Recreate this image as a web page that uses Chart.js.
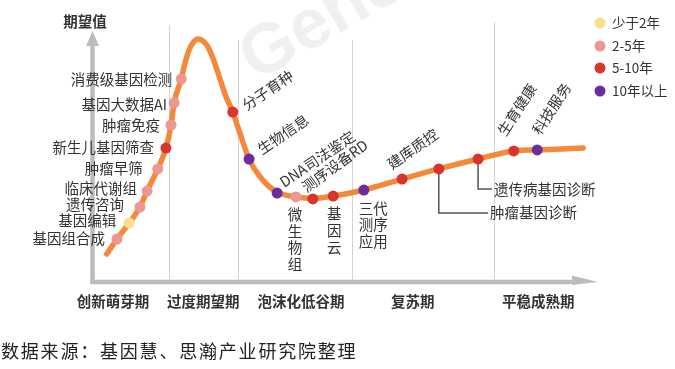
<!DOCTYPE html>
<html><head><meta charset="utf-8">
<script src="https://cdn.jsdelivr.net/npm/chart.js@4"></script>
<style>html,body{margin:0;padding:0;background:#fff;}#wrap{position:relative;width:675px;height:369px;}</style>
</head><body><div id="wrap"><canvas id="c" width="675" height="369"></canvas></div>
<script>
// ---- data (x: time 0-100, y: expectation 0-100) ----
const curveX = [2.9, 4.9, 7.3, 9.4, 10.8, 12.9, 14.5, 15.5, 16.1, 17.5, 18.4, 19.4, 20.8, 22.5, 23.7, 25.1, 26.3, 27.6, 29.0, 30.8, 33.5, 36.3, 40.0, 43.3, 47.3, 53.3, 60.8, 68.0, 75.7, 82.7, 87.3, 96.3];
const curveY = [11.8, 17.7, 24.0, 30.3, 36.6, 45.3, 53.5, 62.6, 71.3, 80.7, 88.2, 93.7, 96.5, 94.1, 89.0, 80.7, 73.6, 67.7, 59.4, 49.2, 40.9, 36.2, 34.3, 33.7, 34.6, 37.0, 41.3, 45.3, 49.2, 52.4, 52.8, 53.5];

const techNames = ['基因组合成','基因编辑','遗传咨询','临床代谢组','肿瘤早筛','新生儿基因筛查','肿瘤免疫','基因大数据AI','消费级基因检测','分子育种','生物信息','DNA司法鉴定','微生物组','测序设备RD','基因云','三代测序应用','建库质控','肿瘤基因诊断','遗传病基因诊断','生育健康','科技服务'];
const techX = [4.9, 7.3, 9.4, 10.8, 12.9, 14.5, 15.5, 16.1, 17.5, 27.6, 30.8, 36.3, 40.0, 43.3, 47.3, 53.3, 60.8, 68.0, 75.7, 82.7, 87.3];
const techY = [17.7, 24.0, 30.3, 36.6, 45.3, 53.5, 62.6, 71.3, 80.7, 67.7, 49.2, 35.8, 34.3, 33.5, 34.6, 37.0, 41.3, 45.3, 49.2, 52.4, 52.8];
const techGroup = [1, 0, 1, 1, 1, 2, 1, 1, 1, 2, 3, 3, 1, 2, 2, 3, 2, 2, 2, 2, 3];

const groupLabels = ['少于2年','2-5年','5-10年','10年以上'];
const phaseLabels = ['创新萌芽期','过度期望期','泡沫化低谷期','复苏期','平稳成熟期'];
const phaseCenters = [4.1, 21.8, 41.0, 62.9, 87.5];
const phaseBounds = [15.1, 28.6, 51.0, 78.8];
const yAxisTitle = '期望值';
const sourceNote = '数据来源：基因慧、思瀚产业研究院整理';
const watermark = 'Gene';

// ---- styles / layout ----
const groupColors = ['#F7DF8C', '#EC9890', '#D8362B', '#6C2D9C'];
const curveColor = '#F4893C';
const textColor = '#333333';
const CJK = '"Noto Sans CJK SC", "Noto Sans", sans-serif';
// label placement per technology
const labelLayout = [
  {t:'left', dx:-12, dy:-1}, {t:'left', dx:-13, dy:-3}, {t:'left', dx:-16, dy:-3},
  {t:'left', dx:-10, dy:-3}, {t:'left', dx:-15, dy:0}, {t:'left', dx:-12, dy:-1},
  {t:'left', dx:-11, dy:0}, {t:'left', dx:-7, dy:2}, {t:'left', dx:-9, dy:0},
  {t:'rot', dx:14, dy:-1, a:-34}, {t:'rot', dx:13, dy:-4, a:-34}, {t:'rot', dx:7, dy:-5, a:-34},
  {t:'vert', dx:-1, dy:18, step:16.5}, {t:'rot', dx:-6, dy:-6, a:-36}, {t:'vert', dx:1, dy:17, step:17},
  {t:'grid', dx:-5, dy:18, step:16.5, per:2}, {t:'rot', dx:-10, dy:-9, a:-35},
  {t:'lead', drop:44, to:488}, {t:'lead', drop:30, to:492},
  {t:'rot', dx:-8, dy:-14, a:-57}, {t:'rot', dx:3, dy:-14, a:-57}
];
const dividerTops = [25, 40, 40, 22];

const groupDatasets = groupLabels.map((g, gi) => ({
  type: 'scatter',
  label: g,
  data: techX.map((x, i) => ({x: x, y: techY[i], g: techGroup[i]})).filter(p => p.g === gi),
  backgroundColor: groupColors[gi],
  borderWidth: 0,
  pointRadius: 5.5,
  pointHoverRadius: 5.5,
  order: 0,
  clip: false
}));

const decor = {
  id: 'decor',
  beforeDatasetsDraw(chart) {
    const ctx = chart.ctx, xs = chart.scales.x, ys = chart.scales.y;
    const ca = chart.chartArea;
    ctx.save();
    // watermark
    ctx.save();
    ctx.translate(256, 82);
    ctx.rotate(-30 * Math.PI / 180);
    ctx.font = 'bold 70px "Liberation Sans", Arial, sans-serif';
    ctx.fillStyle = 'rgba(0,0,0,0.06)';
    ctx.textBaseline = 'alphabetic';
    ctx.fillText(watermark, 0, 0);
    ctx.restore();
    // dividers
    ctx.strokeStyle = '#d4d4d4';
    ctx.lineWidth = 1;
    phaseBounds.forEach((b, i) => {
      const px = Math.round(xs.getPixelForValue(b)) + 0.5;
      ctx.beginPath(); ctx.moveTo(px, dividerTops[i]); ctx.lineTo(px, ca.bottom - 3); ctx.stroke();
    });
    // axes
    const ax = 92.5, ay = 282;
    ctx.strokeStyle = '#bcbcbc';
    ctx.fillStyle = '#bcbcbc';
    ctx.lineWidth = 4.5;
    ctx.beginPath(); ctx.moveTo(ax, ay); ctx.lineTo(ax, 44); ctx.stroke();
    ctx.beginPath(); ctx.moveTo(ax - 2.25, ay); ctx.lineTo(575, ay); ctx.stroke();
    ctx.beginPath(); ctx.moveTo(ax - 6.5, 46); ctx.lineTo(ax, 31); ctx.lineTo(ax + 6.5, 46); ctx.closePath(); ctx.fill();
    ctx.beginPath(); ctx.moveTo(572, ay - 6.5); ctx.lineTo(598, ay); ctx.lineTo(572, ay + 3); ctx.closePath(); ctx.fill();
    // leader lines
    ctx.strokeStyle = '#555';
    ctx.lineWidth = 1.5;
    techNames.forEach((n, i) => {
      const L = labelLayout[i];
      if (L.t !== 'lead') return;
      const px = xs.getPixelForValue(techX[i]), py = ys.getPixelForValue(techY[i]);
      ctx.beginPath(); ctx.moveTo(px, py); ctx.lineTo(px, py + L.drop); ctx.lineTo(L.to, py + L.drop); ctx.stroke();
    });
    ctx.restore();
  },
  afterDatasetsDraw(chart) {
    const ctx = chart.ctx, xs = chart.scales.x, ys = chart.scales.y;
    ctx.save();
    ctx.fillStyle = textColor;
    ctx.font = '14.5px ' + CJK;
    techNames.forEach((n, i) => {
      const L = labelLayout[i];
      const px = xs.getPixelForValue(techX[i]), py = ys.getPixelForValue(techY[i]);
      if (L.t === 'left') {
        ctx.textAlign = 'right'; ctx.textBaseline = 'middle';
        ctx.fillText(n, px + L.dx, py + L.dy);
      } else if (L.t === 'rot') {
        ctx.save();
        ctx.translate(px + L.dx, py + L.dy);
        ctx.rotate(L.a * Math.PI / 180);
        ctx.textAlign = 'left'; ctx.textBaseline = 'alphabetic';
        ctx.fillText(n, 0, 0);
        ctx.restore();
      } else if (L.t === 'vert') {
        ctx.textAlign = 'center'; ctx.textBaseline = 'middle';
        [...n].forEach((ch, k) => ctx.fillText(ch, px + L.dx, py + L.dy + k * L.step));
      } else if (L.t === 'grid') {
        ctx.textAlign = 'left'; ctx.textBaseline = 'middle';
        const chars = [...n];
        for (let k = 0; k * L.per < chars.length; k++) {
          ctx.fillText(chars.slice(k * L.per, k * L.per + L.per).join(''), px + L.dx, py + L.dy + k * L.step);
        }
      } else if (L.t === 'lead') {
        ctx.textAlign = 'left'; ctx.textBaseline = 'middle';
        ctx.fillText(n, L.to + 2, py + L.drop);
      }
    });
    // phase labels
    ctx.font = 'bold 14.5px ' + CJK;
    ctx.textAlign = 'center'; ctx.textBaseline = 'middle';
    phaseLabels.forEach((p, i) => ctx.fillText(p, xs.getPixelForValue(phaseCenters[i]), 301));
    // y title
    ctx.fillText(yAxisTitle, 85, 21);
    // legend
    ctx.font = '13.5px ' + CJK;
    ctx.textAlign = 'left';
    const ly = [23, 46, 68, 91];
    groupLabels.forEach((g, i) => {
      ctx.fillStyle = groupColors[i];
      ctx.beginPath(); ctx.arc(600, ly[i], 5.5, 0, Math.PI * 2); ctx.fill();
      ctx.fillStyle = textColor;
      ctx.fillText(g, 612, ly[i]);
    });
    // source note
    ctx.font = '18px ' + CJK;
    ctx.letterSpacing = '1.8px';
    ctx.fillStyle = '#222';
    ctx.fillText(sourceNote, 1, 351);
    ctx.restore();
  }
};

new Chart(document.getElementById('c'), {
  type: 'line',
  data: {
    datasets: [{
      label: 'curve',
      data: curveX.map((x, i) => ({x: x, y: curveY[i]})),
      borderColor: curveColor,
      borderWidth: 5.5,
      pointRadius: 0,
      cubicInterpolationMode: 'monotone',
      borderCapStyle: 'round',
      fill: false,
      order: 10,
      clip: false
    }, ...groupDatasets]
  },
  options: {
    responsive: false,
    animation: false,
    events: [],
    layout: { padding: { left: 92, right: 73, top: 30, bottom: 85 } },
    scales: {
      x: { type: 'linear', min: 0, max: 100, display: false },
      y: { type: 'linear', min: 0, max: 100, display: false }
    },
    plugins: { legend: { display: false }, tooltip: { enabled: false } }
  },
  plugins: [decor]
});
</script>
</body></html>
